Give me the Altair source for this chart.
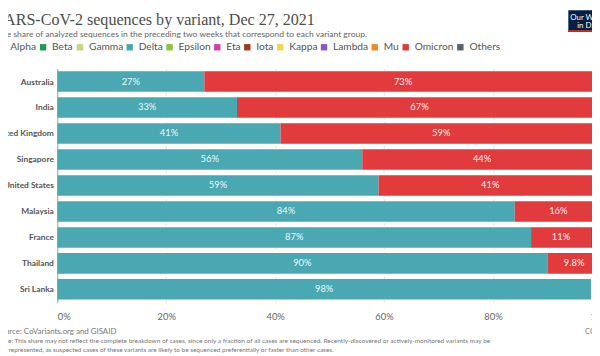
import altair as alt
import pandas as pd

countries = ["Australia", "India", "United Kingdom", "Singapore", "United States",
             "Malaysia", "France", "Thailand", "Sri Lanka"]
variants = ["Alpha", "Beta", "Gamma", "Delta", "Epsilon", "Eta", "Iota", "Kappa",
            "Lambda", "Mu", "Omicron", "Others"]
colors = ["#3c6db2", "#1f9c4e", "#c6d57f", "#4aa8b3", "#8cc43f", "#d43bb6",
          "#a33a1c", "#f5d84a", "#8a58cf", "#ee8a26", "#e13b3e", "#5b5f66"]
delta_share = [27, 33, 41, 56, 59, 84, 87, 90, 98]
omicron_share = [73, 67, 59, 44, 41, 16, 11, 9.8, 0]
others_share = [0, 0, 0, 0, 0, 0, 2, 0.2, 0]
x_ticks = [0, 20, 40, 60, 80, 100]

title_text = "SARS-CoV-2 sequences by variant, Dec 27, 2021"
subtitle_text = ("The share of analyzed sequences in the preceding two weeks that "
                 "correspond to each variant group.")
source_text = "Source: CoVariants.org and GISAID"
note_line1 = ("Note: This share may not reflect the complete breakdown of cases, since only a "
              "fraction of all cases are sequenced. Recently-discovered or actively-monitored "
              "variants may be")
note_line2 = ("overrepresented, as suspected cases of these variants are likely to be sequenced "
              "preferentially or faster than other cases.")

rows = []
for i, c in enumerate(countries):
    for v, arr in (("Delta", delta_share), ("Omicron", omicron_share), ("Others", others_share)):
        if arr[i] > 0:
            rows.append({"country": c, "variant": v, "share": arr[i], "order": variants.index(v)})
df = pd.DataFrame(rows)

xscale = alt.Scale(domain=[0, 100], nice=False)
yscale = alt.Scale(paddingInner=0.21, paddingOuter=0.105)

x_axis = alt.Axis(
    title=None, values=x_ticks, labelExpr="datum.value + '%'", ticks=False, domain=False,
    labelFont="Lato", labelFontSize=9.5, labelColor="#666", labelPadding=9,
    grid=True,
    gridColor={"condition": {"test": "datum.value === 0", "value": "#999"}, "value": "#e2e2e2"},
    gridDash={"condition": {"test": "datum.value === 0", "value": []}, "value": [3, 3]},
    labelAlign={"condition": {"test": "datum.value === 0", "value": "left"}, "value": "center"},
)
y_axis = alt.Axis(title=None, ticks=False, domain=False, labelFont="Lato", labelFontSize=8.5,
                  labelFontWeight="bold", labelColor="#555", labelPadding=4)

bars = alt.Chart(df).mark_bar().encode(
    x=alt.X("share:Q", stack="zero", scale=xscale, axis=x_axis),
    y=alt.Y("country:N", sort=countries, scale=yscale, axis=y_axis),
    color=alt.Color("variant:N", scale=alt.Scale(domain=variants, range=colors),
                    legend=alt.Legend(orient="none", legendX=-62, legendY=-27,
                                      direction="horizontal", title=None, symbolType="square",
                                      symbolSize=42, symbolStrokeWidth=0, labelFont="Lato",
                                      labelFontSize=10.3, labelColor="#555", columnPadding=1.4,
                                      labelOffset=4)),
    order=alt.Order("order:Q"),
)

labels = alt.Chart(df).transform_stack(
    stack="share", as_=["s0", "s1"], groupby=["country"], sort=[alt.SortField("order")]
).transform_calculate(
    mid="(datum.s0 + datum.s1) / 2", label="datum.share + '%'"
).transform_filter("datum.share >= 5").mark_text(
    font="Lato", fontSize=9.5, color="white", opacity=0.92
).encode(
    x=alt.X("mid:Q", scale=xscale),
    y=alt.Y("country:N", sort=countries, scale=yscale),
    text="label:N",
)


def note(txt, x, y, size, color, font="Lato", baseline="middle", weight="normal"):
    return alt.Chart(alt.Data(values=[{}])).mark_text(
        align="left", baseline=baseline, font=font, fontSize=size, color=color,
        fontWeight=weight
    ).encode(x=alt.value(x), y=alt.value(y), text=alt.value(txt))


title = note(title_text, -63, -44, 16.3, "#4d4d4d", font="Liberation Serif", baseline="alphabetic")
subtitle = note(subtitle_text, -61, -35, 8.6, "#666")
src = note(source_text, -62, 267, 8.0, "#777")
n1 = note(note_line1, -61, 276, 6.6, "#777")
n2 = note(note_line2, -62, 285, 6.5, "#777")
cc = note("CC BY", 535, 267, 7.5, "#777")

logo_box = alt.Chart(alt.Data(values=[{}])).mark_rect(color="#002147").encode(
    x=alt.value(518), x2=alt.value(575), y=alt.value(-59), y2=alt.value(-37))
logo_strip = alt.Chart(alt.Data(values=[{}])).mark_rect(color="#ce261e").encode(
    x=alt.value(518), x2=alt.value(575), y=alt.value(-39), y2=alt.value(-37))
logo1 = note("Our World", 520, -51, 8, "white")
logo2 = note("in Data", 527, -43, 8, "white")

chart = alt.layer(
    bars, labels, title, subtitle, src, n1, n2, cc, logo_box, logo_strip, logo1, logo2
).properties(
    width=552, height=237,
    autosize=alt.AutoSizeParams(type="none"),
    padding={"left": 50, "top": 59, "right": -10, "bottom": 52},
).configure_view(stroke=None)

chart.save("out.html", embed_options={"renderer": "svg", "actions": False})
